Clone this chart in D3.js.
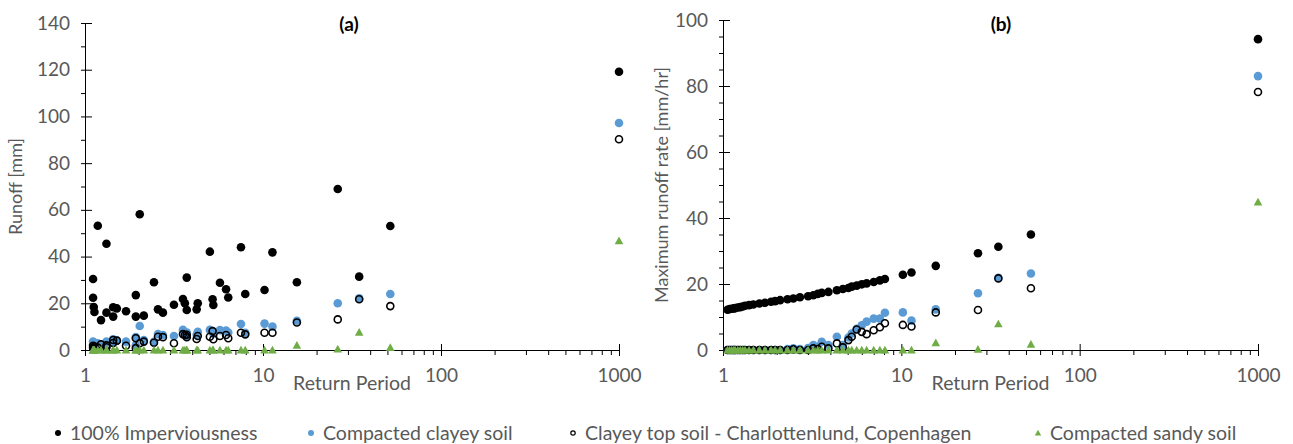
<!DOCTYPE html>
<html>
<head>
<meta charset="utf-8">
<script src="https://cdn.jsdelivr.net/npm/d3@7"></script>
<style>
  body { margin: 0; background: #fff; }
  svg text { font-family: Lato, "Open Sans", sans-serif; fill: #595959; }
</style>
</head>
<body>
<div id="chart"></div>
<script>
// ---- data: panel (a) runoff volume ----
const periodA = [1.11, 1.11, 1.12, 1.13, 1.18, 1.23, 1.32, 1.32, 1.44, 1.44,
  1.51, 1.70, 1.93, 1.93, 2.03, 2.14, 2.44, 2.57, 2.74, 3.16,
  3.55, 3.64, 3.73, 3.73, 4.24, 4.30, 5.03, 5.21, 5.26, 5.73,
  6.20, 6.38, 7.52, 7.95, 10.2, 11.3, 15.5, 26.3, 34.7, 51.9, 1000];
const imperviousA = [30.4, 22.4, 18.4, 16.3, 53.2, 12.8, 45.5, 16.0, 14.3, 18.3,
  17.8, 16.6, 23.5, 14.3, 58.1, 14.7, 29.0, 17.4, 16.0, 19.4,
  21.8, 20.0, 31.0, 17.1, 17.4, 20.0, 42.1, 21.7, 19.3, 28.8,
  26.0, 22.5, 44.0, 24.0, 25.7, 41.8, 29.0, 68.9, 31.4, 53.1, 119.1];
const clayeyA = [3.6, 2.5, 1.5, 3.0, 2.9, 1.5, 3.6, 3.0, 4.6, 3.5,
  4.0, 3.6, 5.5, 2.0, 10.3, 4.3, 3.5, 6.8, 6.4, 6.0,
  8.6, 6.8, 7.5, 6.0, 6.5, 7.8, 8.6, 7.8, 7.0, 8.5,
  8.3, 7.5, 11.1, 7.4, 11.3, 10.0, 12.5, 20.0, 22.1, 24.0, 97.2];
const topsoilA = [1.8, 1.0, 0.5, 1.5, 1.0, 2.4, 2.0, 1.2, 4.3, 3.0,
  4.0, 1.8, 5.0, 0.8, 2.9, 3.6, 3.1, 5.7, 5.5, 2.9,
  6.8, 6.4, 6.5, 5.5, 4.7, 6.0, 5.7, 8.1, 4.6, 6.0,
  6.4, 5.0, 7.4, 6.7, 7.4, 7.4, 11.8, 13.1, 21.7, 18.8, 90.2];
const sandyA = [0, 0, 0, 0, 0, 0, 0, 0, 0, 0,
  0, 0, 0, 0, 0, 0, 0, 0, 0, 0,
  0, 0, 0, 0, 0, 0, 0, 0, 0, 0,
  0, 0, 0, 0, 0, 0, 2.0, 0.4, 7.6, 1.0, 46.8];

// ---- data: panel (b) maximum runoff rate ----
const periodB = [1.06, 1.09, 1.12, 1.15, 1.17, 1.21, 1.25, 1.29, 1.33, 1.40,
  1.48, 1.60, 1.72, 1.86, 1.96, 2.09, 2.30, 2.48, 2.70, 3.00,
  3.21, 3.40, 3.58, 3.90, 4.35, 4.70, 5.05, 5.27, 5.62, 6.00,
  6.39, 7.00, 7.58, 8.09, 10.2, 11.4, 15.6, 26.9, 35.0, 53.3, 1000];
const imperviousB = [12.2, 12.4, 12.5, 12.6, 12.7, 12.9, 13.0, 13.2, 13.4, 13.6,
  13.8, 14.1, 14.3, 14.6, 14.8, 15.1, 15.4, 15.6, 16.0, 16.3,
  16.6, 17.0, 17.3, 17.6, 18.1, 18.5, 18.8, 19.2, 19.5, 19.9,
  20.2, 20.6, 21.1, 21.5, 22.8, 23.5, 25.5, 29.3, 31.3, 35.0, 94.2];
const clayeyB = [0, 0, 0, 0, 0, 0, 0, 0, 0, 0,
  0, 0, 0, 0, 0, 0, 0.3, 0.5, 0.3, 0.6,
  1.5, 1.0, 2.5, 1.5, 4.0, 1.5, 3.8, 5.0, 6.4, 7.5,
  8.6, 9.5, 9.5, 11.3, 11.4, 8.9, 12.3, 17.2, 21.9, 23.2, 83.0];
const topsoilB = [0, 0, 0, 0, 0, 0, 0, 0, 0, 0,
  0, 0, 0, 0, 0, 0, 0, 0.2, 0, 0,
  0.5, 0.3, 1.0, 0.5, 2.0, 0.8, 3.0, 4.0, 6.2, 5.5,
  4.8, 6.0, 6.9, 8.1, 7.6, 7.1, 11.4, 12.1, 21.7, 18.7, 78.2];
const sandyB = [0, 0, 0, 0, 0, 0, 0, 0, 0, 0,
  0, 0, 0, 0, 0, 0, 0, 0, 0, 0,
  0, 0, 0, 0, 0, 0, 0, 0, 0, 0,
  0, 0, 0, 0, 0, 0, 2.2, 0.2, 7.9, 1.7, 44.8];

// ---- tick labels / text ----
const xTicks = [1, 10, 100, 1000];
const yTicksA = [0, 20, 40, 60, 80, 100, 120, 140];
const yTicksB = [0, 20, 40, 60, 80, 100];
const seriesNames = ["100% Imperviousness", "Compacted clayey soil",
  "Clayey top soil - Charlottenlund, Copenhagen", "Compacted sandy soil"];

const W = 1293, H = 444;
const BLUE = "#5B9BD5", GREEN = "#70AD47";

const svg = d3.select("#chart").append("svg")
  .attr("width", W).attr("height", H);

function drawMarker(g, kind, x, y, big) {
  const r = big ? 4.3 : 3;
  if (kind === 0) {
    g.append("circle").attr("cx", x).attr("cy", y).attr("r", r).attr("fill", "#000");
  } else if (kind === 1) {
    g.append("circle").attr("cx", x).attr("cy", y).attr("r", r).attr("fill", BLUE);
  } else if (kind === 2) {
    g.append("circle").attr("cx", x).attr("cy", y).attr("r", r - 0.8)
      .attr("fill", "none").attr("stroke", "#000").attr("stroke-width", big ? 1.6 : 1.2);
  } else {
    const s = big ? 4.3 : 3.2;
    g.append("path")
      .attr("d", `M${x},${y - s}L${x + s},${y + s * 0.8}L${x - s},${y + s * 0.8}Z`)
      .attr("fill", GREEN);
  }
}

function drawPanel(p) {
  const x = d3.scaleLog().domain([1, 1000]).range([p.left, p.right]);
  const y = d3.scaleLinear().domain([0, p.yMax]).range([p.bottom, p.top]);
  const g = svg.append("g");

  // y minor ticks (left side only)
  g.append("g")
    .attr("transform", `translate(${p.left},0)`)
    .call(d3.axisLeft(y).tickValues(d3.range(0, p.yMax + 0.1, p.yMinor)).tickSize(4).tickFormat(""))
    .call(a => a.select(".domain").remove())
    .selectAll("line").attr("stroke", "#000");

  // y axis with crossing major ticks
  const ya = g.append("g")
    .attr("transform", `translate(${p.left},0)`)
    .call(d3.axisLeft(y).tickValues(p.yTicks).tickSize(7).tickSizeOuter(0).tickPadding(8));
  ya.select(".domain").attr("stroke", "#000");
  ya.selectAll(".tick line").attr("x2", 7).attr("stroke", "#000");
  ya.selectAll(".tick text").style("font-size", "19px").attr("fill", "#595959");

  // x minor ticks (below only)
  const minor = x.ticks().filter(v => xTicks.indexOf(v) < 0);
  g.append("g")
    .attr("transform", `translate(0,${p.bottom})`)
    .call(d3.axisBottom(x).tickValues(minor).tickSize(5).tickFormat(""))
    .call(a => a.select(".domain").remove())
    .selectAll("line").attr("stroke", "#000");

  // x axis with crossing major ticks
  const xa = g.append("g")
    .attr("transform", `translate(0,${p.bottom})`)
    .call(d3.axisBottom(x).tickValues(xTicks).tickSize(6).tickSizeOuter(0)
      .tickFormat(d3.format("d")).tickPadding(13));
  xa.select(".domain").attr("stroke", "#000");
  xa.selectAll(".tick line").attr("y1", -6).attr("stroke", "#000");
  xa.selectAll(".tick text").style("font-size", "19px").attr("fill", "#595959");

  // axis titles
  g.append("text")
    .attr("x", (p.left + p.right) / 2).attr("y", p.bottom + 40)
    .attr("text-anchor", "middle").style("font-size", "19.5px")
    .text("Return Period");
  g.append("text")
    .attr("transform", `translate(${p.ylabelX},${(p.top + p.bottom) / 2}) rotate(-90)`)
    .attr("text-anchor", "middle").style("font-size", "18px")
    .text(p.ylabel);
  g.append("text")
    .attr("x", p.titleX).attr("y", 31)
    .attr("text-anchor", "middle").style("font-size", "19px").style("font-weight", "bold")
    .style("fill", "#000")
    .text(p.title);

  // points, series drawn in order
  const marks = g.append("g");
  p.series.forEach((vals, k) => {
    vals.forEach((v, i) => drawMarker(marks, k, x(p.period[i]), y(v), true));
  });
}

drawPanel({
  left: 85, right: 619, top: 23, bottom: 350, yMax: 140, yMinor: 10,
  yTicks: yTicksA, ylabel: "Runoff [mm]", ylabelX: 22, title: "(a)", titleX: 349,
  period: periodA, series: [imperviousA, clayeyA, topsoilA, sandyA]
});
drawPanel({
  left: 723, right: 1258, top: 20, bottom: 350, yMax: 100, yMinor: 5,
  yTicks: yTicksB, ylabel: "Maximum runoff rate [mm/hr]", ylabelX: 668, title: "(b)", titleX: 1001,
  period: periodB, series: [imperviousB, clayeyB, topsoilB, sandyB]
});

// legend
const legendX = [58, 311, 573, 1038];
const legend = svg.append("g");
seriesNames.forEach((name, k) => {
  drawMarker(legend, k, legendX[k], 433, false);
  legend.append("text")
    .attr("x", legendX[k] + 12).attr("y", 440)
    .style("font-size", "19.5px")
    .text(name);
});
</script>
</body>
</html>
